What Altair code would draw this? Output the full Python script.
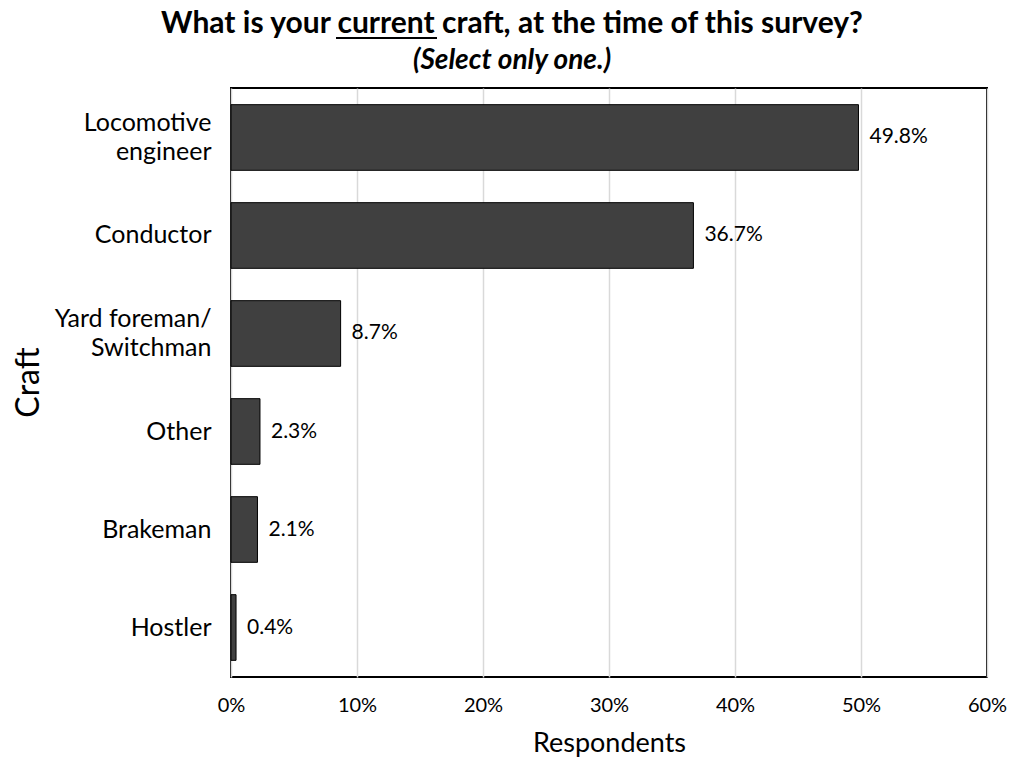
import altair as alt
import pandas as pd

crafts = ["Locomotive\nengineer", "Conductor", "Yard foreman/\nSwitchman", "Other", "Brakeman", "Hostler"]
shares = [0.498, 0.367, 0.087, 0.023, 0.021, 0.004]

title_line1 = "What is your current craft, at the time of this survey?"
title_line2 = "(Select only one.)"

df = pd.DataFrame({"craft": crafts, "share": shares})
one = df.head(1)

FONT = "Lato"

y_enc = alt.Y(
    "craft:N",
    sort=crafts,
    scale=alt.Scale(paddingInner=0.33, paddingOuter=0.17),
    axis=alt.Axis(
        title="Craft",
        labelExpr="split(datum.label, '\\n')",
        labelFontSize=25,
        labelLineHeight=29,
        labelOffset={"condition": {"test": "indexof(datum.value, '\\n') >= 0", "value": -14}, "value": 0},
        labelPadding=20,
        labelColor="#000000",
        labelFont=FONT,
        ticks=False,
        domain=False,
        titleFontSize=32,
        titleFontWeight="normal",
        titleFont=FONT,
        titleColor="#000000",
        titleX=-203,
        titleY=294,
        titleAlign="center",
        titleBaseline="middle",
        titleAngle=-90,
    ),
)

x_enc = alt.X(
    "share:Q",
    scale=alt.Scale(domain=[0, 0.6], nice=False),
    axis=alt.Axis(
        title="Respondents",
        format=".0%",
        values=[0, 0.1, 0.2, 0.3, 0.4, 0.5, 0.6],
        grid=True,
        gridColor="#d9d9d9",
        gridWidth=1.5,
        ticks=False,
        domain=False,
        labelFlush=False,
        labelFontSize=20,
        labelFont=FONT,
        labelColor="#000000",
        labelPadding=18,
        titleFontSize=27,
        titleFontWeight="normal",
        titleFont=FONT,
        titleColor="#000000",
        titleY=66,
        titleBaseline="middle",
    ),
)

bars = alt.Chart(df).mark_bar(color="#404040", stroke="#000000", strokeWidth=1).encode(
    x=x_enc, y=y_enc
)

labels = alt.Chart(df).mark_text(
    align="left", baseline="middle", dx=11, fontSize=21, font=FONT, color="#000000"
).encode(
    x="share:Q",
    y=alt.Y("craft:N", sort=crafts),
    text=alt.Text("share:Q", format=".1%"),
)

# chart title drawn as text (two styled lines)
t1 = alt.Chart(one).mark_text(
    align="center", baseline="alphabetic", fontSize=30, fontWeight="bold", font=FONT, color="#000000"
).encode(x=alt.value(281), y=alt.value(-55), text=alt.value(title_line1))

t2 = alt.Chart(one).mark_text(
    align="center", baseline="alphabetic", fontSize=28, fontWeight="bold", fontStyle="italic",
    font=FONT, color="#000000"
).encode(x=alt.value(281), y=alt.value(-19), text=alt.value(title_line2))

# underline under the word "current" in the title (decoration)
underline = alt.Chart(one).mark_rule(color="#000000", strokeWidth=2).encode(
    x=alt.value(105), x2=alt.value(206), y=alt.value(-50)
)

chart = (
    alt.layer(bars, labels, t1, t2, underline)
    .properties(
        width=756,
        height=589,
        autosize=alt.AutoSizeParams(type="none"),
        padding={"left": 231, "top": 88, "right": 23, "bottom": 80},
    )
    .configure_view(stroke="#000000", strokeWidth=2)
)

chart.save("out.html", embed_options={"renderer": "svg", "actions": False})
